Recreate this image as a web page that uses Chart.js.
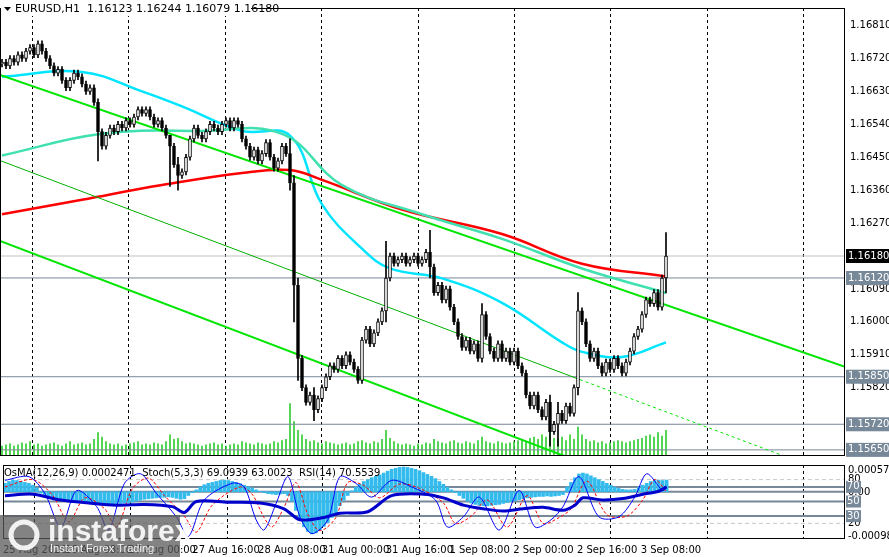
<!DOCTYPE html>
<html><head><meta charset="utf-8">
<script src="https://cdn.jsdelivr.net/npm/chart.js@4"></script>
<style>body{margin:0;background:#fff;width:889px;height:557px;overflow:hidden;position:relative}
canvas{position:absolute;left:0}</style></head><body>
<canvas id="m" width="889" height="463" style="top:0"></canvas>
<canvas id="s" width="889" height="94" style="top:463px"></canvas>
<script>
const closes=[1.1671,1.1670,1.1672,1.1671,1.1673,1.1672,
1.1674,1.1675,1.1673,1.1676,1.1674,1.1672,
1.1670,1.1668,1.1669,1.1666,1.1664,1.1666,
1.1668,1.1667,1.1665,1.1663,1.1664,1.1660,
1.1652,1.1648,1.1651,1.1653,1.1652,1.1654,
1.1653,1.1655,1.1654,1.1656,1.1658,1.1657,
1.1658,1.1656,1.1654,1.1655,1.1653,1.1651,
1.1648,1.1643,1.1640,1.1641,1.1645,1.1650,
1.1653,1.1651,1.1650,1.1652,1.1654,1.1653,
1.1652,1.1654,1.1655,1.1653,1.1655,1.1654,
1.1650,1.1648,1.1645,1.1647,1.1644,1.1646,
1.1649,1.1645,1.1642,1.1644,1.1648,1.1646,
1.1638,1.1610,1.1590,1.1582,1.1578,1.1580,
1.1576,1.1579,1.1582,1.1585,1.1588,1.1587,
1.1590,1.1588,1.1591,1.1589,1.1587,1.1584,
1.1595,1.1598,1.1594,1.1597,1.1600,1.1603,
1.1612,1.1618,1.1616,1.1617,1.1618,1.1616,
1.1617,1.1618,1.1616,1.1617,1.1619,1.1615,
1.1608,1.1610,1.1606,1.1609,1.1604,1.1600,
1.1596,1.1593,1.1595,1.1592,1.1594,1.1590,
1.1602,1.1596,1.1592,1.1590,1.1594,1.1590,
1.1592,1.1589,1.1592,1.1588,1.1586,1.1580,
1.1577,1.1580,1.1576,1.1574,1.1578,1.1570,
1.1572,1.1575,1.1573,1.1577,1.1575,1.1582,
1.1603,1.1600,1.1594,1.1590,1.1592,1.1588,
1.1586,1.1589,1.1587,1.1590,1.1588,1.1586,
1.1589,1.1592,1.1596,1.1598,1.1602,1.1606,
1.1605,1.1608,1.1604,1.1612,1.1618];
const firstOpen=1.16705;
const wickOverrides={24:[1.1644,1.1661],42:[1.1637,1.1650],44:[1.1636,1.1645],72:[1.1636,1.1650],73:[1.1600,1.1640],74:[1.1584,1.1612],78:[1.1573,1.1582],96:[1.1600,1.1622],107:[1.1612,1.1625],120:[1.1589,1.1605],137:[1.1566,1.1580],139:[1.1566,1.1578],144:[1.1580,1.1608],166:[1.16079,1.16244]};
const volumes=[8,9,10,8,9,11,10,12,9,10,8,9,10,11,9,8,10,12,9,10,11,9,10,14,
20,16,12,10,9,10,8,9,10,11,12,9,10,9,11,10,9,12,18,14,15,12,10,11,
10,9,8,9,10,11,9,10,8,9,10,9,12,11,10,9,11,10,9,10,12,11,13,14,
46,30,22,18,14,12,13,11,10,12,11,10,9,10,11,9,10,12,13,11,10,12,11,14,
22,15,12,10,9,10,9,8,10,9,11,10,14,12,11,10,12,13,11,10,12,11,10,13,
16,12,11,10,12,11,10,11,12,13,14,12,15,16,14,18,16,22,15,14,16,13,18,14,
25,18,14,12,13,11,12,10,11,12,13,12,11,12,13,14,15,17,18,16,20,17,22];
const maRed=[[0,1.16294],[20,1.16334],[40,1.16374],[60,1.16407],[72,1.16415],[80,1.16388],[100,1.16307],[125,1.16240],[145,1.16159],[166,1.16124]];
const maCyan=[[0,1.16670],[20,1.16683],[35,1.16630],[45,1.16589],[60,1.16522],[72,1.16509],[80,1.16321],[90,1.16200],[97,1.16146],[110,1.16119],[125,1.16052],[140,1.15944],[145,1.15918],[155,1.15904],[166,1.15944]];
const maTeal=[[0,1.16455],[25,1.16514],[50,1.16522],[70,1.16514],[85,1.16374],[105,1.16294],[125,1.16227],[145,1.16146],[166,1.16079]];
const channel1=[[-0.5,1.16675],[210.75,1.15877]];
const channel2=[[-0.5,1.16441],[144.5,1.15842]];
const channel2ext=[[144.5,1.15842],[198.25,1.15622]];
const channel3=[[-0.5,1.16221],[144.5,1.15617]];
const levels=[1.16180,1.16120,1.15850,1.15720,1.15650];
const priceTicks=[1.16810,1.16720,1.16630,1.16540,1.16450,1.16360,1.16270,1.16180,1.16090,1.16000,1.15910,1.15820];
const gridIdx=[7.5,31.5,55.75,79.75,104,128,152,176.25,200.25];
const timeLabels=[[-0.5,'25 Aug 2020'],[15,'26 Aug 08:00'],[31,'27 Aug 00:00'],[47,'27 Aug 16:00'],[63.5,'28 Aug 08:00'],[79.5,'31 Aug 00:00'],[95.5,'31 Aug 16:00'],[111.5,'1 Sep 08:00'],[127.5,'2 Sep 00:00'],[143.5,'2 Sep 16:00'],[159.5,'3 Sep 08:00']];
const osma=[18,22,25,24,22,20,18,14,8,
-3,-6,-9,-12,-14,-16,-17,-18,-19,-20,-21,-22,
-22,-24,-26,-28,-29,-28,-27,-26,-25,-24,-23,-22,
-20,-18,-16,-15,-14,-13,-12,-12,-11,-12,-14,-16,-15,
-8,-2,4,10,15,18,20,22,24,25,
24,22,20,17,14,11,8,
4,1,-2,-4,-5,-6,-5,-4,
-8,-20,-40,-60,-75,-85,-90,-88,-82,-74,-66,-55,-45,
-30,-18,-8,2,10,16,22,26,30,33,36,40,
44,48,50,52,53,52,50,48,45,41,37,33,28,
22,16,10,4,-2,-8,-14,
-20,-24,-27,-29,-30,-30,-29,-28,-27,-25,
-23,-21,-19,-17,-15,-13,-12,-11,-10,-10,-9,-10,-9,-8,-6,
10,20,30,38,40,38,34,30,26,22,18,14,
10,7,5,4,4,5,
10,14,18,22,24,25,24,25];
const rsi=[[0,58],[7,60],[14,52],[21,48],[28,45],[35,46],[42,43],[45,35],[48,50],[56,49],[64,48],[70,40],[74,25],[80,28],[84,34],[91,36],[97,58],[105,60],[110,55],[115,45],[120,40],[125,37],[130,40],[135,42],[140,38],[143,45],[145,55],[150,52],[155,54],[160,60],[164,64],[166,70]];
const stochMain=[[0,79],[6,84],[10,61],[14,15],[18,65],[23,43],[26,11],[30,75],[34,88],[38,61],[43,29],[46,2],[50,52],[57,75],[60,70],[63,25],[65,11],[68,47],[71,84],[74,29],[77,6],[81,25],[84,84],[88,75],[92,56],[97,79],[102,70],[108,52],[111,15],[115,29],[119,56],[124,11],[129,65],[133,15],[137,25],[140,43],[144,84],[149,29],[154,29],[158,56],[161,88],[165,65],[166,69]];
const stochSig=[[0,70],[7,80],[12,58],[16,22],[20,55],[25,40],[28,15],[32,68],[36,82],[40,58],[45,30],[48,8],[52,45],[59,70],[62,60],[65,28],[67,15],[70,42],[73,76],[76,32],[79,10],[83,28],[86,76],[90,72],[94,55],[99,74],[104,68],[110,48],[113,20],[117,30],[121,52],[126,15],[131,58],[135,20],[139,28],[142,40],[146,78],[151,32],[156,30],[160,52],[163,80],[166,63]];
const subLevels=[80,70,50,30,20];

const XMIN=-0.5,XMAX=210.75;
const F='"DejaVu Sans", sans-serif';
const pts=a=>a.map(p=>({x:p[0],y:p[1]}));
const opens=closes.map((c,i)=>i?closes[i-1]:firstOpen);
const ohlc=closes.map((c,i)=>{const o=opens[i];const w=wickOverrides[i];const hi=w?w[1]:Math.max(o,c)+0.00008;const lo=w?w[0]:Math.min(o,c)-0.00008;return{o,c,hi,lo};});
const bodies=ohlc.map((d,i)=>({x:i,y:Math.abs(d.c-d.o)<0.00002?[d.o-0.00001,d.o+0.00001]:[d.o,d.c]}));
const wicks=ohlc.map((d,i)=>({x:i,y:[d.lo,d.hi]}));
const line=(data,color,w,extra)=>Object.assign({type:'line',data:pts(data),borderColor:color,borderWidth:w,pointRadius:0,tension:0.4,yAxisID:'y',order:1},extra||{});
const levelDs=levels.map((v,k)=>({type:'line',data:[{x:XMIN,y:v},{x:XMAX,y:v}],borderColor:k===0?'#c0c0c0':'#778899',borderWidth:1,pointRadius:0,yAxisID:'y',order:5}));

const mainPlugin={id:'mp',afterDraw(ch){const c=ch.ctx,a=ch.chartArea,y=ch.scales.y;
 c.save();c.strokeStyle='#000';c.lineWidth=1;c.strokeRect(a.left+0.5,a.top+0.5,a.right-a.left-1,a.bottom-a.top);
 c.font='10px '+F;c.textBaseline='middle';
 levels.forEach((v,k)=>{const py=y.getPixelForValue(v);c.fillStyle=k===0?'#000':'#778899';c.fillRect(a.right+1,py-7,43,14);c.fillStyle='#fff';c.fillText(v.toFixed(5),a.right+3,py);});
 c.font='11px '+F;c.fillStyle='#fff';c.fillRect(1,2,250,14);c.fillStyle='#000';
 c.beginPath();c.moveTo(4,7);c.lineTo(11,7);c.lineTo(7.5,11);c.fill();
 c.fillText('EURUSD,H1  1.16123 1.16244 1.16079 1.16180',15,9);
 c.restore();}};

const xGrid={type:'linear',min:XMIN,max:XMAX,offset:false,afterBuildTicks:s=>{s.ticks=gridIdx.map(v=>({value:v}))},
   ticks:{display:false},grid:{color:'#000',drawTicks:false,offset:false},border:{display:false,dash:[3,3]}};

new Chart(document.getElementById('m'),{data:{datasets:[
 ...levelDs,
 {type:'bar',data:volumes.map((v,i)=>({x:i,y:v})),backgroundColor:'#32cd32',barThickness:1,yAxisID:'v',order:6},
 line(channel1,'#00e600',2,{tension:0}),
 line(channel2,'#00b000',1,{tension:0}),
 line(channel2ext,'#00e600',1,{tension:0,borderDash:[3,3]}),
 line(channel3,'#00e600',2,{tension:0}),
 line(maTeal,'#40e0b0',2.5),
 line(maRed,'#ff0000',2.5),
 line(maCyan,'#00e5ff',2.5),
 {type:'bar',data:wicks,backgroundColor:'#000',barThickness:1,yAxisID:'y',order:0,grouped:false},
 {type:'bar',data:bodies,backgroundColor:ohlc.map(d=>d.c>=d.o?'#fff':'#000'),borderColor:'#000',borderWidth:1,borderSkipped:false,barThickness:3,yAxisID:'y',order:-1,grouped:false}
]},options:{animation:false,responsive:false,devicePixelRatio:1,layout:{padding:0},
 plugins:{legend:{display:false},tooltip:{enabled:false}},
 scales:{x:Object.assign({},xGrid,{afterFit:s=>{s.height=8}}),
  y:{position:'right',min:1.15636,max:1.16858,afterBuildTicks:s=>{s.ticks=priceTicks.map(v=>({value:v}))},
   ticks:{callback:v=>v.toFixed(5),font:{size:10,family:F},color:'#000',padding:2},grid:{display:false,drawTicks:true,tickLength:3},border:{display:false},afterFit:s=>{s.width=44}},
  v:{display:false,min:0,max:400}}},plugins:[mainPlugin]});

const subPlugin={id:'sp',afterDraw(ch){const c=ch.ctx,a=ch.chartArea,y=ch.scales.y;
 c.save();c.strokeStyle='#000';c.lineWidth=1;c.strokeRect(a.left+0.5,a.top+0.5,a.right-a.left-1,a.bottom-a.top);
 c.font='10px '+F;c.textBaseline='middle';c.fillStyle='#000';
 c.fillText('0.000572',a.right+3,a.top+5);c.fillText('-0.000989',a.right+3,a.bottom-2);
 c.fillText('0.00',a.right+3,ch.scales.o.getPixelForValue(0)+1);
 [80,20].forEach(v=>c.fillText(String(v),a.right+3,y.getPixelForValue(v)));
 [70,50,30].forEach(v=>{const py=y.getPixelForValue(v);c.fillStyle='#778899';c.fillRect(a.right+1,py-6,15,12);c.fillStyle='#fff';c.fillText(String(v),a.right+2,py);});
 c.fillStyle='#000';c.font='10px '+F;c.fillText('OsMA(12,26,9) 0.0002471  Stoch(5,3,3) 69.0939 63.0023  RSI(14) 70.5539',4,a.top+8);
 c.fillStyle='rgba(90,90,90,0.75)';c.fillRect(0,52,180,42);
 c.fillStyle='rgba(255,255,255,0.9)';c.font='bold 30px "Liberation Sans", sans-serif';c.fillText('instaforex',48,70);
 c.font='11px "Liberation Sans", sans-serif';c.fillText('Instant Forex Trading',50,86);
 c.beginPath();c.arc(24,72,13,0,Math.PI*2);c.lineWidth=5;c.strokeStyle='rgba(255,255,255,0.9)';c.stroke();
 c.restore();}};
const subLevelDs=subLevels.map(v=>({type:'line',data:[{x:XMIN,y:v},{x:XMAX,y:v}],borderColor:(v===80||v===20)?'#c8c8c8':'#778899',borderWidth:(v===80||v===20)?1:2,borderDash:(v===80||v===20)?[4,3]:[],pointRadius:0,yAxisID:'y',order:5}));

new Chart(document.getElementById('s'),{data:{datasets:[
 ...subLevelDs,
 {type:'line',data:[{x:XMIN,y:0},{x:XMAX,y:0}],borderColor:'#778899',borderWidth:2,pointRadius:0,yAxisID:'o',order:5},
 {type:'bar',data:osma.map((v,i)=>({x:i,y:v*1e-5})),backgroundColor:'#33bbee',barThickness:3,yAxisID:'o',order:4},
 {type:'line',data:pts(stochSig),borderColor:'#ff0000',borderWidth:1,borderDash:[3,2],pointRadius:0,tension:0.3,yAxisID:'y',order:2},
 {type:'line',data:pts(stochMain),borderColor:'#0000ff',borderWidth:1,pointRadius:0,tension:0.3,yAxisID:'y',order:1},
 {type:'line',data:pts(rsi),borderColor:'#0000cc',borderWidth:3,pointRadius:0,tension:0.3,yAxisID:'y',order:0}
]},options:{animation:false,responsive:false,devicePixelRatio:1,layout:{padding:{top:2}},
 plugins:{legend:{display:false},tooltip:{enabled:false}},
 scales:{x:Object.assign({},xGrid,{afterFit:s=>{s.height=0}}),
  t:{type:'linear',position:'bottom',min:XMIN,max:XMAX,offset:false,afterBuildTicks:s=>{s.ticks=timeLabels.map(p=>({value:p[0]}))},
   ticks:{align:'start',autoSkip:false,maxRotation:0,font:{size:10,family:F},color:'#000',padding:3,callback:v=>{const p=timeLabels.find(q=>q[0]===v);return p?p[1]:''}},
   grid:{display:false,drawTicks:true,tickLength:3},border:{display:false},afterFit:s=>{s.height=19}},
  y:{position:'right',min:0,max:100,ticks:{display:false},grid:{display:false},border:{display:false},afterFit:s=>{s.width=44}},
  o:{display:false,min:-0.000989,max:0.000572}}},plugins:[subPlugin]});
</script></body></html>
